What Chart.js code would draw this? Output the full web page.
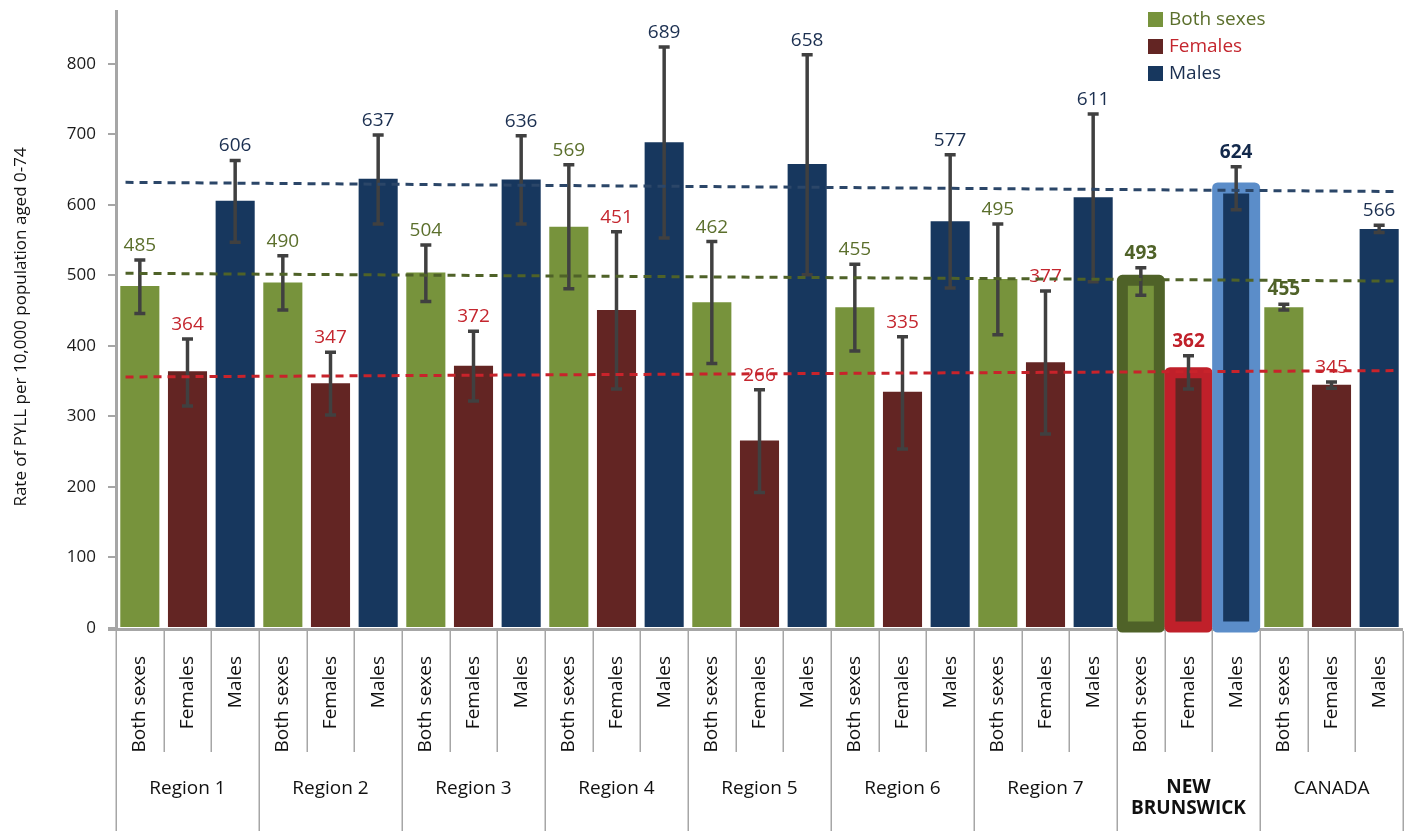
<!DOCTYPE html>
<html>
<head>
<meta charset="utf-8">
<title>Rate of PYLL per 10,000 population aged 0-74</title>
<script src="https://cdn.jsdelivr.net/npm/chart.js@4.4.1/dist/chart.umd.min.js"></script>
<style>
  html, body { margin: 0; padding: 0; background: #ffffff; }
  #wrap { width: 1409px; height: 831px; }
</style>
</head>
<body>
<div id="wrap"><canvas id="chart" width="1409" height="831"></canvas></div>
<script>
// Areas and sex groups
const regions = ['Region 1', 'Region 2', 'Region 3', 'Region 4', 'Region 5', 'Region 6', 'Region 7', 'NEW BRUNSWICK', 'CANADA'];
const sexes = ['Both sexes', 'Females', 'Males'];

// Rates of PYLL per 10,000 population aged 0-74
const bothSexes = [485, 490, 504, 569, 462, 455, 495, 493, 455];
const females   = [364, 347, 372, 451, 266, 335, 377, 362, 345];
const males     = [606, 637, 636, 689, 658, 577, 611, 624, 566];

// Confidence interval bounds
const bothLow   = [446, 451, 463, 481, 375, 393, 416, 472, 451];
const bothHigh  = [522, 528, 543, 657, 548, 516, 573, 511, 459];
const femLow    = [315, 302, 322, 339, 192, 254, 275, 339, 340];
const femHigh   = [410, 391, 421, 562, 338, 413, 478, 386, 349];
const maleLow   = [547, 573, 573, 553, 501, 482, 491, 593, 561];
const maleHigh  = [663, 699, 698, 824, 813, 671, 729, 654, 571];

// Trend line end points (position along the category axis, rate)
const trendX       = [-0.3, 26.3];
const trendBoth    = [503, 492];
const trendFemales = [356, 365];
const trendMales   = [632, 619];

// Y axis ticks
const yTicks = [0, 100, 200, 300, 400, 500, 600, 700, 800];

const FONT = "'Open Sans', 'DejaVu Sans', sans-serif";
const AXIS_GREY = '#a6a6a6';
const highlightGroup = 'NEW BRUNSWICK';

const series = [
  { name: sexes[0], values: bothSexes, low: bothLow, high: bothHigh,
    fill: '#77933c', text: '#5b6f2c', strong: '#4f6228', frame: '#4f6228', trend: trendBoth, trendColor: '#4f6228' },
  { name: sexes[1], values: females, low: femLow, high: femHigh,
    fill: '#632523', text: '#c4262e', strong: '#c0202a', frame: '#c0202a', trend: trendFemales, trendColor: '#c8232b' },
  { name: sexes[2], values: males, low: maleLow, high: maleHigh,
    fill: '#17375e', text: '#1b2f50', strong: '#13294b', frame: '#5b8dc9', trend: trendMales, trendColor: '#2b4668' }
];

// Bold value labels
const boldLabels = { 'NEW BRUNSWICK': [true, true, true], 'CANADA': [true, false, false] };

const categoryLabels = [];
regions.forEach(() => sexes.forEach(s => categoryLabels.push(s)));

function spread(values, slot) {
  const out = new Array(regions.length * sexes.length).fill(null);
  values.forEach((v, i) => { out[i * sexes.length + slot] = v; });
  return out;
}

const barDatasets = series.map((s, k) => ({
  type: 'bar',
  label: s.name,
  data: spread(s.values, k),
  backgroundColor: s.fill,
  borderWidth: 0,
  grouped: false,
  categoryPercentage: 1,
  barPercentage: 0.82,
  order: 2
}));

const lineDatasets = series.map(s => ({
  type: 'line',
  label: s.name + ' trend',
  xAxisID: 'xt',
  data: trendX.map((x, i) => ({ x: x, y: s.trend[i] })),
  borderColor: s.trendColor,
  borderWidth: 3,
  borderDash: [8, 6],
  pointRadius: 0,
  fill: false,
  order: 1
}));

// Highlight frames, error bars and value labels, painted just before the trend lines
let overlaysDone = false;
const overlayPlugin = {
  id: 'overlays',
  beforeDatasetsDraw(chart) {
    overlaysDone = false;
    const ctx = chart.ctx;
    const xs = chart.scales.x;
    const ys = chart.scales.y;
    // horizontal category axis line
    ctx.save();
    ctx.strokeStyle = AXIS_GREY;
    ctx.lineWidth = 3;
    ctx.beginPath();
    ctx.moveTo(xs.left - 8, ys.bottom + 1.5);
    ctx.lineTo(xs.right, ys.bottom + 1.5);
    ctx.stroke();
    ctx.restore();
  },
  beforeDatasetDraw(chart, args) {
    if (overlaysDone || args.meta.type !== 'line') return;
    overlaysDone = true;
    const ctx = chart.ctx;
    const ys = chart.scales.y;
    const hi = regions.indexOf(highlightGroup);

    // frames round the highlighted group
    series.forEach((s, k) => {
      const el = chart.getDatasetMeta(k).data[hi * 3 + k];
      if (!el) return;
      ctx.save();
      ctx.strokeStyle = s.frame;
      ctx.lineWidth = 11;
      ctx.lineJoin = 'round';
      ctx.strokeRect(el.x - 18.5, el.y, 37, el.base - el.y);
      ctx.restore();
    });

    // error bars
    series.forEach((s, k) => {
      const meta = chart.getDatasetMeta(k);
      regions.forEach((r, i) => {
        const el = meta.data[i * 3 + k];
        if (!el) return;
        const yHi = ys.getPixelForValue(s.high[i]);
        const yLo = ys.getPixelForValue(s.low[i]);
        ctx.save();
        ctx.strokeStyle = '#404040';
        ctx.lineWidth = 3.5;
        ctx.beginPath();
        ctx.moveTo(el.x, yHi);
        ctx.lineTo(el.x, yLo);
        ctx.stroke();
        ctx.beginPath();
        ctx.moveTo(el.x - 5.5, yHi);
        ctx.lineTo(el.x + 5.5, yHi);
        ctx.moveTo(el.x - 5.5, yLo);
        ctx.lineTo(el.x + 5.5, yLo);
        ctx.stroke();
        ctx.restore();
      });
    });

    // value labels
    series.forEach((s, k) => {
      const meta = chart.getDatasetMeta(k);
      regions.forEach((r, i) => {
        const el = meta.data[i * 3 + k];
        if (!el) return;
        const bold = boldLabels[r] ? boldLabels[r][k] : false;
        const yHi = ys.getPixelForValue(s.high[i]);
        ctx.save();
        ctx.font = (bold ? 'bold ' : '') + '19px ' + FONT;
        ctx.fillStyle = bold ? s.strong : s.text;
        ctx.textAlign = 'center';
        ctx.textBaseline = 'alphabetic';
        ctx.fillText(String(s.values[i]), el.x, yHi - 9);
        ctx.restore();
      });
    });
  },
  afterDraw(chart) {
    const ctx = chart.ctx;
    const xs = chart.scales.x;
    const ys = chart.scales.y;
    const n = categoryLabels.length;
    const w = (xs.right - xs.left) / n;
    const base = ys.bottom + 3;

    // table lines under the category axis
    ctx.save();
    ctx.strokeStyle = AXIS_GREY;
    ctx.lineWidth = 1.5;
    for (let i = 0; i <= n; i++) {
      const x = Math.round(xs.left + i * w) + 0.25;
      ctx.beginPath();
      ctx.moveTo(x, base);
      ctx.lineTo(x, i % 3 === 0 ? chart.height : 752);
      ctx.stroke();
    }
    ctx.restore();

    // group names
    ctx.save();
    ctx.fillStyle = '#111111';
    ctx.textAlign = 'center';
    ctx.textBaseline = 'alphabetic';
    regions.forEach((r, i) => {
      const cx = xs.left + (i * 3 + 1.5) * w;
      if (r === highlightGroup) {
        ctx.font = 'bold 19px ' + FONT;
        ctx.fillText('NEW', cx, 793);
        ctx.fillText('BRUNSWICK', cx, 814);
      } else {
        ctx.font = '19px ' + FONT;
        ctx.fillText(r, cx, 794);
      }
    });
    ctx.restore();

    // y axis title
    ctx.save();
    ctx.translate(21, 327);
    ctx.rotate(-Math.PI / 2);
    ctx.font = '17px ' + FONT;
    ctx.fillStyle = '#111111';
    ctx.textAlign = 'center';
    ctx.textBaseline = 'middle';
    ctx.fillText('Rate of PYLL per 10,000 population aged 0-74', 0, 0);
    ctx.restore();

    // legend
    ctx.save();
    series.forEach((s, k) => {
      const y = 12 + k * 27;
      ctx.fillStyle = s.fill;
      ctx.fillRect(1148, y, 15, 15);
      ctx.font = '19px ' + FONT;
      ctx.fillStyle = k === 1 ? '#c4262e' : (k === 0 ? '#5b6f2c' : '#1b2f50');
      ctx.textAlign = 'left';
      ctx.textBaseline = 'middle';
      ctx.fillText(s.name, 1169, y + 8);
    });
    ctx.restore();
  }
};

new Chart(document.getElementById('chart'), {
  data: {
    labels: categoryLabels,
    datasets: [...barDatasets, ...lineDatasets]
  },
  options: {
    responsive: false,
    animation: false,
    devicePixelRatio: 1,
    layout: { padding: { top: 11, right: 6, left: 0, bottom: 0 } },
    plugins: {
      legend: { display: false },
      tooltip: { enabled: false }
    },
    scales: {
      x: {
        type: 'category',
        offset: true,
        grid: { display: false },
        border: { display: false },
        ticks: {
          autoSkip: false,
          maxRotation: 90,
          minRotation: 90,
          padding: 20,
          color: '#111111',
          font: { family: FONT, size: 19 }
        },
        afterFit(scale) {
          scale.height = 203;
          scale.paddingLeft = 0;
          scale.paddingRight = 0;
        }
      },
      xt: {
        type: 'linear',
        display: false,
        min: -0.5,
        max: 26.5
      },
      y: {
        min: 0,
        max: 875,
        grid: {
          drawOnChartArea: false,
          drawTicks: true,
          tickLength: 8,
          color: AXIS_GREY,
          lineWidth: 2
        },
        border: { color: AXIS_GREY, width: 3 },
        afterBuildTicks(scale) { scale.ticks = yTicks.map(v => ({ value: v })); },
        ticks: {
          padding: 12,
          color: '#1a1a1a',
          font: { family: FONT, size: 17 }
        },
        afterFit(scale) {
          scale.width = 116;
          scale.paddingTop = 0;
          scale.paddingBottom = 0;
        }
      }
    }
  },
  plugins: [overlayPlugin]
});
</script>
</body>
</html>
